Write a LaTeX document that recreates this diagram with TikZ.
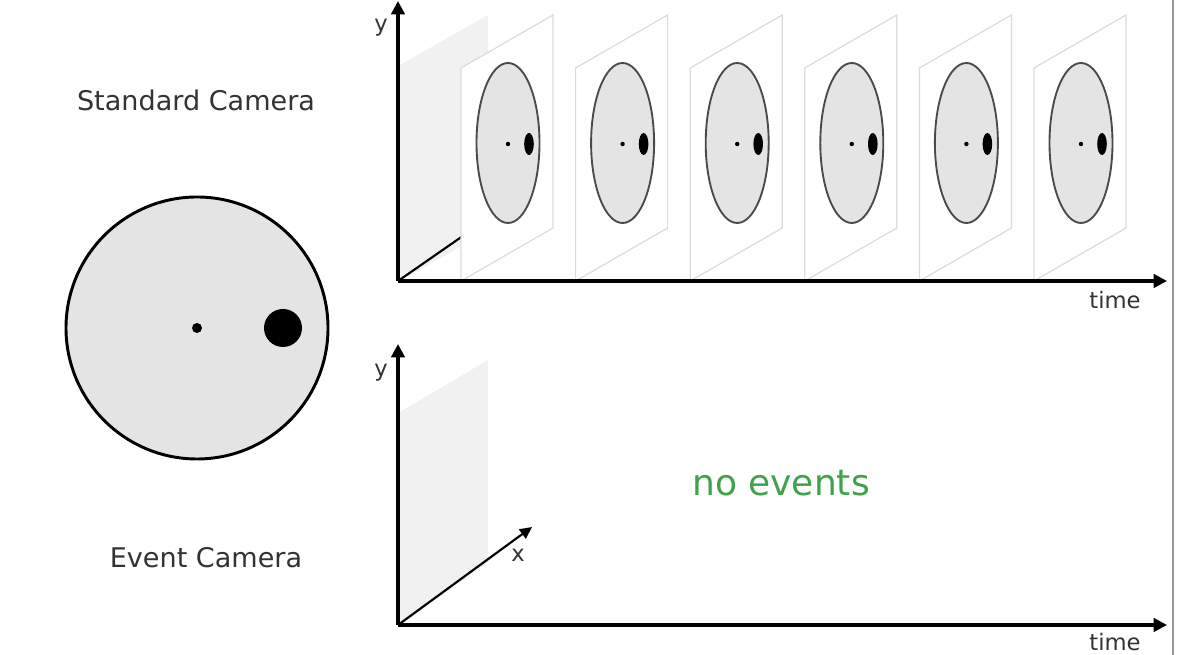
\documentclass[tikz,border=0pt]{standalone}
\usepackage{fontspec}
\setmainfont{DejaVu Sans}
\usetikzlibrary{arrows.meta}
\definecolor{txt}{HTML}{333333}
\definecolor{disc}{HTML}{E4E4E4}
\definecolor{plane}{HTML}{F1F1F1}
\definecolor{framec}{HTML}{DCDCDC}
\definecolor{ring}{HTML}{4A4A4A}
\definecolor{evgreen}{HTML}{3FA34A}
\tikzset{
  axis/.style={line width=2.4pt, -{Triangle[length=10pt,width=10pt]}},
  depthaxis/.style={line width=1.6pt},
  label/.style={text=txt, font=\fontsize{17}{19}\selectfont, inner sep=0pt},
  title/.style={text=txt, font=\fontsize{20.3}{23}\selectfont, inner sep=0pt},
  framebox/.style={draw=framec, fill=white, line width=0.9pt},
  lens/.style={draw=ring, fill=disc, line width=1.4pt},
}
\begin{document}
\begin{tikzpicture}[x=0.75pt,y=-0.75pt]
\useasboundingbox (0,0) rectangle (1183,655);
\fill[white] (0,0) rectangle (1183,655);
\draw[color=black!40, line width=0.8pt] (1173,0) -- (1173,655);

% left big disc
\node[title] (std) at (196,100) {Standard Camera};
\node[title] (evc) at (206,558) {Event Camera};
\node[circle, draw=black, line width=2.2pt, fill=disc, minimum size=262*0.75pt, inner sep=0pt] (big) at (197,328) {};
\fill (197,328) circle[radius=5];
\fill (283,328) circle[radius=19];

% ---------- top plot ----------
\coordinate (o1) at (398,281);
\coordinate (y1) at (398,1);
\coordinate (t1) at (1167,281);
\coordinate (d1) at (470,231);
\fill[plane] (400,281) -- (400,65) -- (488,15) -- (488,231) -- cycle;
\draw[depthaxis] (o1) -- (d1);
\foreach \i in {0,...,5}{
  \pgfmathsetmacro{\fx}{461+114.6*\i}
  \draw[framebox] (\fx,281) -- (\fx,68) -- (\fx+92,15) -- (\fx+92,228) -- cycle;
  \draw[lens] (\fx+47,143) ellipse[x radius=31.5, y radius=80];
  \fill (\fx+47,144) circle[radius=2.2];
  \fill (\fx+68,144) ellipse[x radius=4.8, y radius=11];
}
\draw[axis] (o1) -- (y1);
\draw[axis] (o1) -- (t1);
\node[label] (ylab1) at (381,28) {y};
\node[label] (tlab1) at (1115,300) {time};

% ---------- bottom plot ----------
\coordinate (o2) at (398,625);
\coordinate (y2) at (398,344);
\coordinate (t2) at (1167,625);
\coordinate (x2) at (532,527);
\fill[plane] (400,625) -- (400,412) -- (488,360) -- (488,562) -- cycle;
\draw[axis] (o2) -- (y2);
\draw[axis] (o2) -- (t2);
\draw[depthaxis, -{Triangle[length=9pt,width=8.5pt]}] (o2) -- (x2);
\node[label] (ylab2) at (381,373) {y};
\node[label] (xlab2) at (518,555) {x};
\node[label] (tlab2) at (1115,642) {time};

\node[text=evgreen, font=\fontsize{27}{30}\selectfont, inner sep=0pt] (none) at (781,483) {no events};
\end{tikzpicture}
\end{document}
